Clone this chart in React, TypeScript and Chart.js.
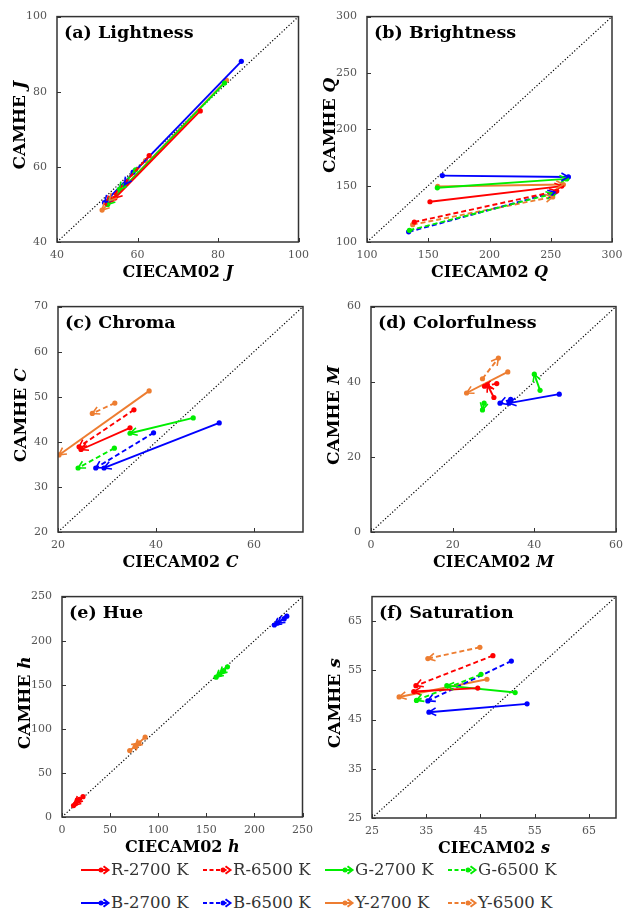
import React, { useEffect, useRef } from 'react';
import { Chart, registerables } from 'chart.js';

Chart.register(...registerables);

// ---------- series ----------
const seriesNames = ['R-2700 K', 'R-6500 K', 'G-2700 K', 'G-6500 K', 'B-2700 K', 'B-6500 K', 'Y-2700 K', 'Y-6500 K'];
const seriesColors = ['#ff0000', '#ff0000', '#00ee00', '#00ee00', '#0000ff', '#0000ff', '#ed7d31', '#ed7d31'];
const seriesDashed = [false, true, false, true, false, true, false, true];

// ---------- (a) Lightness ----------
const lightStartX = [75.6, 62.9, 81.6, 59.5, 85.8, 58.9, 82.1, 62.0];
const lightStartY = [74.9, 63.0, 82.3, 59.2, 88.1, 58.6, 83.1, 61.7];
const lightEndX = [54.4, 52.3, 52.6, 55.5, 51.8, 56.8, 51.2, 53.0];
const lightEndY = [51.7, 50.3, 50.0, 54.0, 50.5, 55.3, 48.5, 51.0];
const lightTicks = [40, 60, 80, 100];

// ---------- (b) Brightness ----------
const brightStartX = [151.4, 138.6, 157.4, 134.6, 161.5, 134.0, 157.7, 137.3];
const brightStartY = [135.7, 117.7, 148.1, 110.4, 158.9, 109.0, 149.3, 115.4];
const brightEndX = [259.0, 254.9, 263.0, 252.0, 264.4, 253.5, 260.3, 251.6];
const brightEndY = [149.6, 145.2, 156.0, 142.9, 157.7, 144.3, 151.0, 140.0];
const brightTicks = [100, 150, 200, 250, 300];

// ---------- (c) Chroma ----------
const chromaStartX = [34.7, 35.5, 47.6, 31.5, 52.9, 39.5, 38.6, 31.6];
const chromaStartY = [43.1, 47.1, 45.3, 38.6, 44.2, 42.0, 51.3, 48.6];
const chromaEndX = [24.7, 24.3, 34.7, 24.1, 29.4, 27.7, 20.2, 27.0];
const chromaEndY = [38.3, 38.9, 41.9, 34.2, 34.2, 34.2, 37.1, 46.3];
const chromaTicksX = [20, 40, 60];
const chromaTicksY = [20, 30, 40, 50, 60, 70];

// ---------- (d) Colorfulness ----------
const colorfStartX = [30.1, 30.8, 41.4, 27.7, 46.1, 34.2, 33.5, 27.3];
const colorfStartY = [35.8, 39.5, 37.7, 34.3, 36.7, 35.3, 42.6, 40.8];
const colorfEndX = [28.5, 27.8, 40.0, 27.3, 33.8, 31.6, 23.4, 31.2];
const colorfEndY = [39.2, 38.8, 42.0, 32.5, 34.3, 34.3, 37.0, 46.3];
const colorfTicks = [0, 20, 40, 60];

// ---------- (e) Hue ----------
const hueStartX = [21.8, 18.0, 172.0, 168.0, 233.7, 231.0, 86.4, 70.4];
const hueStartY = [23.0, 20.0, 170.3, 166.0, 227.8, 225.0, 90.6, 75.3];
const hueEndX = [12.0, 14.0, 164.0, 160.2, 220.7, 224.0, 76.0, 80.0];
const hueEndY = [13.0, 15.0, 162.0, 158.6, 217.8, 220.0, 80.0, 84.0];
const hueTicks = [0, 50, 100, 150, 200, 250];

// ---------- (f) Saturation ----------
const satStartX = [44.5, 47.3, 51.4, 45.1, 53.6, 50.7, 46.2, 44.9];
const satStartY = [51.4, 58.0, 50.5, 54.2, 48.2, 56.9, 53.2, 59.7];
const satEndX = [32.7, 33.1, 38.8, 33.2, 35.5, 35.3, 30.0, 35.3];
const satEndY = [50.7, 51.9, 51.9, 48.9, 46.5, 48.8, 49.6, 57.4];
const satTicks = [25, 35, 45, 55, 65];

type Frame = { cx: number; cy: number; cw: number; ch: number; L: number; T: number; R: number; B: number };
type PanelSpec = {
  title: string;
  letter: string;
  min: number;
  max: number;
  ticksX: number[];
  ticksY: number[];
  sx: number[];
  sy: number[];
  ex: number[];
  ey: number[];
  frame: Frame;
};

const panels: PanelSpec[] = [
  { title: '(a) Lightness', letter: 'J', min: 40, max: 100, ticksX: lightTicks, ticksY: lightTicks,
    sx: lightStartX, sy: lightStartY, ex: lightEndX, ey: lightEndY,
    frame: { cx: 0, cy: 0, cw: 316, ch: 290, L: 57, T: 12, R: 302, B: 242 } },
  { title: '(b) Brightness', letter: 'Q', min: 100, max: 300, ticksX: brightTicks, ticksY: brightTicks,
    sx: brightStartX, sy: brightStartY, ex: brightEndX, ey: brightEndY,
    frame: { cx: 316, cy: 0, cw: 317, ch: 290, L: 367, T: 12, R: 612, B: 242 } },
  { title: '(c) Chroma', letter: 'C', min: 20, max: 70, ticksX: chromaTicksX, ticksY: chromaTicksY,
    sx: chromaStartX, sy: chromaStartY, ex: chromaEndX, ey: chromaEndY,
    frame: { cx: 0, cy: 290, cw: 316, ch: 290, L: 58, T: 305, R: 303, B: 532 } },
  { title: '(d) Colorfulness', letter: 'M', min: 0, max: 60, ticksX: colorfTicks, ticksY: colorfTicks,
    sx: colorfStartX, sy: colorfStartY, ex: colorfEndX, ey: colorfEndY,
    frame: { cx: 316, cy: 290, cw: 317, ch: 290, L: 371, T: 305, R: 616, B: 532 } },
  { title: '(e) Hue', letter: 'h', min: 0, max: 250, ticksX: hueTicks, ticksY: hueTicks,
    sx: hueStartX, sy: hueStartY, ex: hueEndX, ey: hueEndY,
    frame: { cx: 0, cy: 580, cw: 320, ch: 280, L: 62, T: 589, R: 307, B: 817 } },
  { title: '(f) Saturation', letter: 's', min: 25, max: 70, ticksX: satTicks, ticksY: satTicks,
    sx: satStartX, sy: satStartY, ex: satEndX, ey: satEndY,
    frame: { cx: 316, cy: 580, cw: 317, ch: 280, L: 372, T: 590, R: 616, B: 818 } },
];

const FONT = '"DejaVu Serif", "Liberation Serif", serif';

function drawMixed(ctx: CanvasRenderingContext2D, x: number, y: number, rotate: boolean, plain: string, ital: string, size: number) {
  ctx.save();
  ctx.translate(x, y);
  if (rotate) ctx.rotate(-Math.PI / 2);
  const fB = `bold ${size}px ${FONT}`;
  const fI = `italic bold ${size}px ${FONT}`;
  ctx.font = fB;
  const w1 = ctx.measureText(plain).width;
  ctx.font = fI;
  const w2 = ctx.measureText(ital).width;
  const sx = -(w1 + w2) / 2;
  ctx.textBaseline = 'middle';
  ctx.textAlign = 'left';
  ctx.fillStyle = '#000';
  ctx.font = fB;
  ctx.fillText(plain, sx, 0);
  ctx.font = fI;
  ctx.fillText(ital, sx + w1, 0);
  ctx.restore();
}

const decorPlugin = {
  id: 'decor',
  afterDatasetsDraw(chart: any) {
    const ctx: CanvasRenderingContext2D = chart.ctx;
    const { left, right, top, bottom } = chart.chartArea;
    // arrowheads
    chart.data.datasets.forEach((ds: any, i: number) => {
      if (!ds.arrow) return;
      const meta = chart.getDatasetMeta(i);
      const a = meta.data[0];
      const b = meta.data[1];
      const ang = Math.atan2(b.y - a.y, b.x - a.x);
      const len = 8;
      const spread = 0.5;
      ctx.save();
      ctx.beginPath();
      ctx.rect(left, top, right - left, bottom - top);
      ctx.clip();
      ctx.beginPath();
      ctx.strokeStyle = ds.borderColor;
      ctx.lineWidth = 1.6;
      ctx.setLineDash([]);
      ctx.moveTo(b.x - len * Math.cos(ang - spread), b.y - len * Math.sin(ang - spread));
      ctx.lineTo(b.x, b.y);
      ctx.lineTo(b.x - len * Math.cos(ang + spread), b.y - len * Math.sin(ang + spread));
      ctx.stroke();
      ctx.restore();
    });
    // box
    ctx.save();
    ctx.strokeStyle = '#333';
    ctx.lineWidth = 1.5;
    ctx.setLineDash([]);
    ctx.strokeRect(left, top, right - left, bottom - top);
    ctx.lineWidth = 1;
    const xs = chart.scales.x;
    const ys = chart.scales.y;
    ctx.beginPath();
    xs.ticks.forEach((t: any) => {
      const px = Math.round(xs.getPixelForValue(t.value)) + 0.5;
      ctx.moveTo(px, bottom);
      ctx.lineTo(px, bottom - 4);
    });
    ys.ticks.forEach((t: any) => {
      const py = Math.round(ys.getPixelForValue(t.value)) + 0.5;
      ctx.moveTo(left, py);
      ctx.lineTo(left + 4, py);
    });
    ctx.stroke();
    ctx.restore();
  },
  afterDraw(chart: any, _args: any, opts: any) {
    const ctx: CanvasRenderingContext2D = chart.ctx;
    const { left, right, top, bottom } = chart.chartArea;
    ctx.save();
    ctx.font = `bold 17.5px ${FONT}`;
    ctx.fillStyle = '#000';
    ctx.textBaseline = 'middle';
    ctx.textAlign = 'left';
    ctx.fillText(opts.title, left + 7, top + 17);
    ctx.restore();
    drawMixed(ctx, (left + right) / 2, bottom + 31, false, 'CIECAM02 ', opts.letter, 16);
    drawMixed(ctx, left - 36, (top + bottom) / 2 - 4, true, 'CAMHE ', opts.letter, 17);
  },
};

function Panel({ spec }: { spec: PanelSpec }) {
  const ref = useRef<HTMLCanvasElement>(null);
  useEffect(() => {
    if (!ref.current) return;
    const f = spec.frame;
    const datasets: any[] = [];
    for (let i = 0; i < seriesNames.length; i++) {
      datasets.push({
        label: seriesNames[i],
        data: [
          { x: spec.sx[i], y: spec.sy[i] },
          { x: spec.ex[i], y: spec.ey[i] },
        ],
        showLine: true,
        borderColor: seriesColors[i],
        backgroundColor: seriesColors[i],
        borderWidth: 1.9,
        borderDash: seriesDashed[i] ? [5, 3] : [],
        pointRadius: 2.6,
        pointBorderWidth: 0,
        pointHoverRadius: 2.6,
        arrow: true,
        order: 1,
      });
    }
    datasets.push({
      label: 'diag',
      data: [
        { x: spec.min, y: spec.min },
        { x: spec.max, y: spec.max },
      ],
      showLine: true,
      borderColor: '#000',
      borderWidth: 1.2,
      borderDash: [1.2, 2],
      pointRadius: 0,
      order: 5,
    });
    const tickFont = { family: FONT, size: 11 };
    const chart = new Chart(ref.current, {
      type: 'scatter',
      data: { datasets },
      plugins: [decorPlugin as any],
      options: {
        animation: false,
        responsive: false,
        events: [],
        layout: { padding: { left: 0, top: f.T - f.cy, right: f.cx + f.cw - f.R, bottom: 0 } },
        plugins: {
          legend: { display: false },
          tooltip: { enabled: false },
          decor: { title: spec.title, letter: spec.letter },
        } as any,
        scales: {
          x: {
            type: 'linear',
            min: spec.min,
            max: spec.max,
            afterBuildTicks: (s: any) => {
              s.ticks = spec.ticksX.map((v) => ({ value: v }));
            },
            afterFit: (s: any) => {
              s.height = f.cy + f.ch - f.B;
            },
            grid: { display: false, drawTicks: false },
            border: { display: false },
            ticks: { font: tickFont, color: '#555', padding: 7, maxRotation: 0, autoSkip: false },
          },
          y: {
            type: 'linear',
            min: spec.min,
            max: spec.max,
            afterBuildTicks: (s: any) => {
              s.ticks = spec.ticksY.map((v) => ({ value: v }));
            },
            afterFit: (s: any) => {
              s.width = f.L - f.cx;
            },
            grid: { display: false, drawTicks: false },
            border: { display: false },
            ticks: { font: tickFont, color: '#555', padding: 10, autoSkip: false },
          },
        },
      } as any,
    });
    return () => chart.destroy();
  }, [spec]);
  const f = spec.frame;
  return (
    <canvas
      ref={ref}
      width={f.cw}
      height={f.ch}
      style={{ position: 'absolute', left: f.cx, top: f.cy, width: f.cw, height: f.ch, display: 'block' }}
    />
  );
}

const legendCols = [81, 203, 325, 448];
const legendRows = [870, 903];

function LegendItem({ i }: { i: number }) {
  const c = seriesColors[i];
  const left = legendCols[i % 4];
  const top = legendRows[Math.floor(i / 4)] - 11;
  return (
    <div style={{ position: 'absolute', left, top, height: 22, display: 'flex', alignItems: 'center', whiteSpace: 'nowrap' }}>
      <svg width={30} height={12} style={{ display: 'block' }}>
        <line x1={0} y1={6} x2={27} y2={6} stroke={c} strokeWidth={2} strokeDasharray={seriesDashed[i] ? '4 2.5' : undefined} />
        <circle cx={20} cy={6} r={2.5} fill={c} />
        <polyline points="22.5,2.2 27.5,6 22.5,9.8" fill="none" stroke={c} strokeWidth={2} />
      </svg>
      <span style={{ fontFamily: FONT, fontSize: 16.5, color: '#333', marginLeft: 0, lineHeight: '22px' }}>{seriesNames[i]}</span>
    </div>
  );
}

export default function App() {
  return (
    <div style={{ position: 'absolute', left: 0, top: 0, width: 633, height: 912, background: '#fff', overflow: 'hidden' }}>
      {panels.map((p) => (
        <Panel key={p.title} spec={p} />
      ))}
      {seriesNames.map((_, i) => (
        <LegendItem key={i} i={i} />
      ))}
    </div>
  );
}
